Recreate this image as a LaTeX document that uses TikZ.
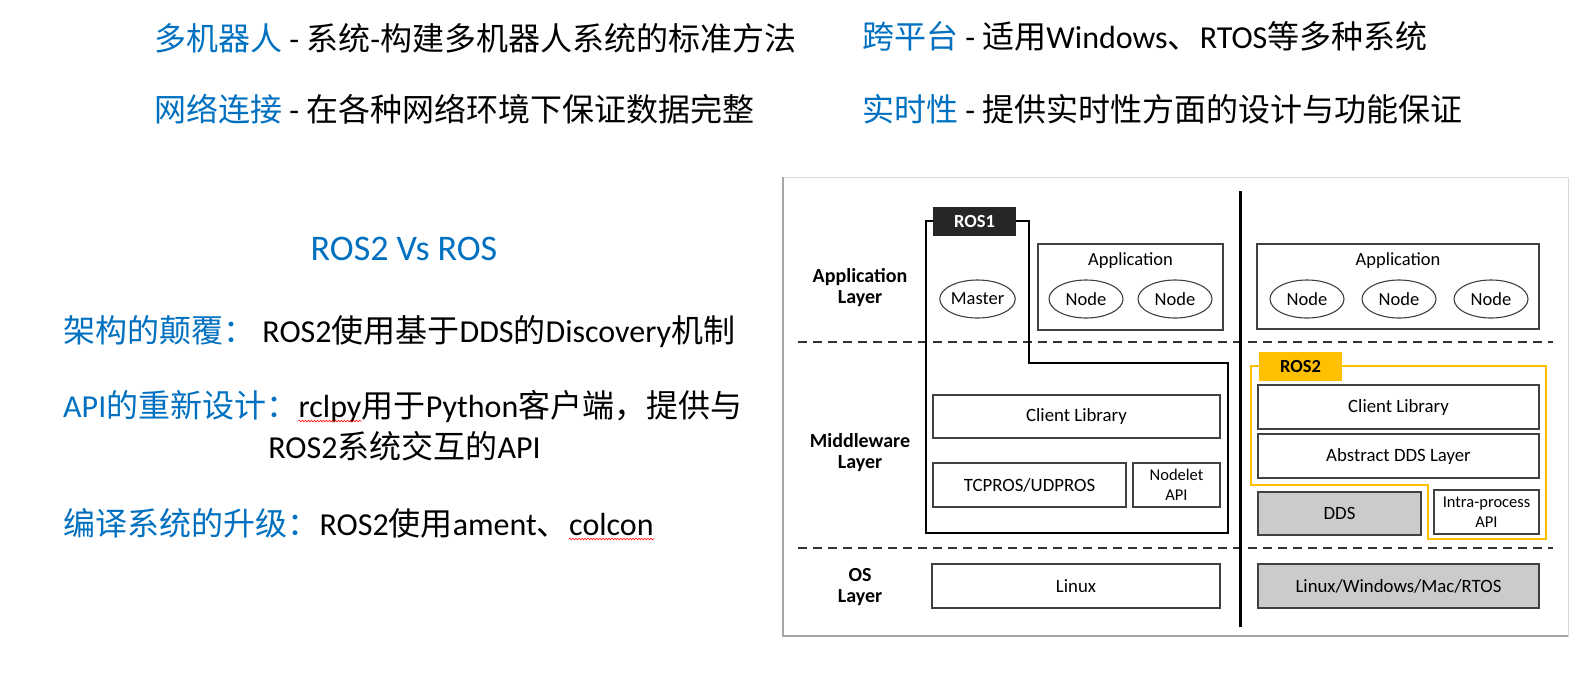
\documentclass[tikz,border=0pt]{standalone}
\usepackage{fontspec}
\setmainfont{Carlito}
\newfontfamily\cjk{Noto Sans CJK SC}
\usetikzlibrary{shapes.geometric,decorations.pathmorphing}
\definecolor{tblue}{RGB}{0,112,192}
\definecolor{ryel}{RGB}{255,192,0}
\definecolor{dgray}{RGB}{203,203,203}
\newcommand\zh[1]{{\cjk #1}}
\begin{document}
\begin{tikzpicture}[x=1pt,y=-1pt,
  body/.style={inner sep=0pt, font=\fontsize{32}{38}\selectfont},
  box/.style={draw=black!75, line width=1.3pt, fill=white, inner sep=0pt, font=\fontsize{18.8}{20}\selectfont, align=center},
  gbox/.style={box, fill=dgray},
  small/.style={font=\fontsize{16.5}{20}\selectfont},
  oval/.style={ellipse, draw=black!75, line width=1.1pt, inner sep=0pt, minimum width=74pt, minimum height=38pt, font=\fontsize{18.5}{20}\selectfont},
  layer/.style={inner sep=0pt, align=center, font=\bfseries\fontsize{20}{21}\selectfont},
  lbl/.style={inner sep=0pt, font=\fontsize{18.5}{20}\selectfont},
  sep/.style={dash pattern=on 9pt off 6pt, line width=1.5pt, draw=black!80},
  squig/.style={draw=red, line width=0.6pt, decorate, decoration={snake, segment length=3pt, amplitude=0.8pt}},
  tab/.style={inner sep=0pt, minimum width=83pt, minimum height=29pt, font=\bfseries\fontsize{18.5}{20}\selectfont},
]
\useasboundingbox[fill=white] (0,0) rectangle (1589,673);

% ---------- top text ----------
\node[body, anchor=base west] (t1) at (154,50.5) {\textcolor{tblue}{\zh{多机器人}} - \zh{系统}-\zh{构建多机器人系统的标准方法}};
\node[body, anchor=base west] (t2) at (154,121.5) {\textcolor{tblue}{\zh{网络连接}} - \zh{在各种网络环境下保证数据完整}};
\node[body, anchor=base west] (t3) at (862,48.5) {\textcolor{tblue}{\zh{跨平台}} - \zh{适用}Windows\zh{、}RTOS\zh{等多种系统}};
\node[body, anchor=base west] (t4) at (862,121.5) {\textcolor{tblue}{\zh{实时性}} - \zh{提供实时性方面的设计与功能保证}};

% ---------- left text ----------
\node[inner sep=0pt, anchor=base, text=tblue, font=\fontsize{36}{40}\selectfont] (title) at (404,260) {ROS2 Vs ROS};
\node[body, anchor=base west] (l1) at (63,342) {\textcolor{tblue}{\zh{架构的颠覆：}} ROS2\zh{使用基于}DDS\zh{的}Discovery\zh{机制}};
\node[body, anchor=base west, text=tblue] (api1) at (63,417) {API\zh{的重新设计：}};
\node[body, anchor=base west] (rclpy) at (api1.base east) {rclpy};
\node[body, anchor=base west] (api2) at (rclpy.base east) {\zh{用于}Python\zh{客户端，提供与}};
\node[body, anchor=base] (api3) at (404.5,458) {ROS2\zh{系统交互的}API};
\node[body, anchor=base west, text=tblue] (l3a) at (63,535) {\zh{编译系统的升级：}};
\node[body, anchor=base west] (l3b) at (l3a.base east) {ROS2\zh{使用}ament\zh{、}};
\node[body, anchor=base west] (colcon) at (l3b.base east) {colcon};
\draw[squig] ([yshift=-4pt]rclpy.base west) -- ([yshift=-4pt]rclpy.base east);
\draw[squig] ([yshift=-4pt]colcon.base west) -- ([yshift=-4pt]colcon.base east);

% ---------- diagram frame ----------
\draw[draw=black!15, line width=1pt] (783,177) rectangle (1568,636);
\draw[draw=black!35, line width=2pt] (783,177) -- (783,636) -- (1568,636);

% separators
\coordinate (d1l) at (798,342); \coordinate (d1r) at (1553,342);
\coordinate (d2l) at (798,548); \coordinate (d2r) at (1553,548);
\draw[sep] (d1l) -- (d1r);
\draw[sep] (d2l) -- (d2r);
\coordinate (vt) at (1240,191); \coordinate (vb) at (1240,627);
\draw[line width=3pt] (vt) -- (vb);

% layer labels
\node[layer] (applayer) at (860,287.5) {Application\\Layer};
\node[layer] (midlayer) at (860,452.5) {Middleware\\Layer};
\node[layer] (oslayer) at (860,587.5) {OS\\Layer};

% ---------- ROS1 ----------
\node[tab, fill=black!85, text=white] (ros1tab) at (974.5,221) {ROS1};
\coordinate (r1a) at (926,221);
\coordinate (r1b) at (926,533);
\coordinate (r1c) at (1228,533);
\coordinate (r1d) at (1228,363);
\coordinate (r1e) at (1029,363);
\coordinate (r1f) at (1029,221);
\draw[line width=2pt, line join=miter] (ros1tab.west) -- (r1a) -- (r1b) -- (r1c) -- (r1d) -- (r1e) -- (r1f) -- (ros1tab.east);

\node[oval, minimum width=73pt] (master) at (977.5,299) {Master};
\node[box, minimum width=185pt, minimum height=86pt] (app1) at (1130.5,287) {};
\node[lbl] (app1lbl) at (1130.5,261) {Application};
\node[oval] (n1a) at (1086,299) {Node};
\node[oval] (n1b) at (1175,299) {Node};
\node[box, minimum width=287pt, minimum height=43pt] (cl1) at (1076.5,416.5) {Client Library};
\node[box, minimum width=193pt, minimum height=44pt] (tcp) at (1029.5,485) {TCPROS/UDPROS};
\node[box, small, minimum width=87pt, minimum height=44pt] (nodelet) at (1176.5,485) {Nodelet\\API};
\node[box, minimum width=288pt, minimum height=44pt] (linux) at (1076,586) {Linux};

% ---------- ROS2 ----------
\node[box, minimum width=282pt, minimum height=85pt] (app2) at (1398,286.5) {};
\node[lbl] (app2lbl) at (1398,261) {Application};
\node[oval] (n2a) at (1307,299) {Node};
\node[oval] (n2b) at (1399,299) {Node};
\node[oval] (n2c) at (1491,299) {Node};

\node[tab, fill=ryel, text=black] (ros2tab) at (1300.5,366) {ROS2};
\coordinate (y1) at (1251,366);
\coordinate (y2) at (1251,485);
\coordinate (y3) at (1428,485);
\coordinate (y4) at (1428,539);
\coordinate (y5) at (1546,539);
\coordinate (y6) at (1546,366);
\draw[draw=ryel, line width=2.5pt, line join=miter] (ros2tab.west) -- (y1) -- (y2) -- (y3) -- (y4) -- (y5) -- (y6) -- (ros2tab.east);

\node[box, minimum width=281pt, minimum height=44pt] (cl2) at (1398.5,407) {Client Library};
\node[box, minimum width=281pt, minimum height=44pt] (adds) at (1398.5,456) {Abstract DDS Layer};
\node[gbox, minimum width=163pt, minimum height=43pt] (dds) at (1339.5,513.5) {DDS};
\node[box, small, minimum width=105pt, minimum height=44pt] (intra) at (1486.5,512) {Intra-process\\API};
\node[gbox, minimum width=281pt, minimum height=44pt] (os2) at (1398.5,586) {Linux/Windows/Mac/RTOS};
\end{tikzpicture}
\end{document}
